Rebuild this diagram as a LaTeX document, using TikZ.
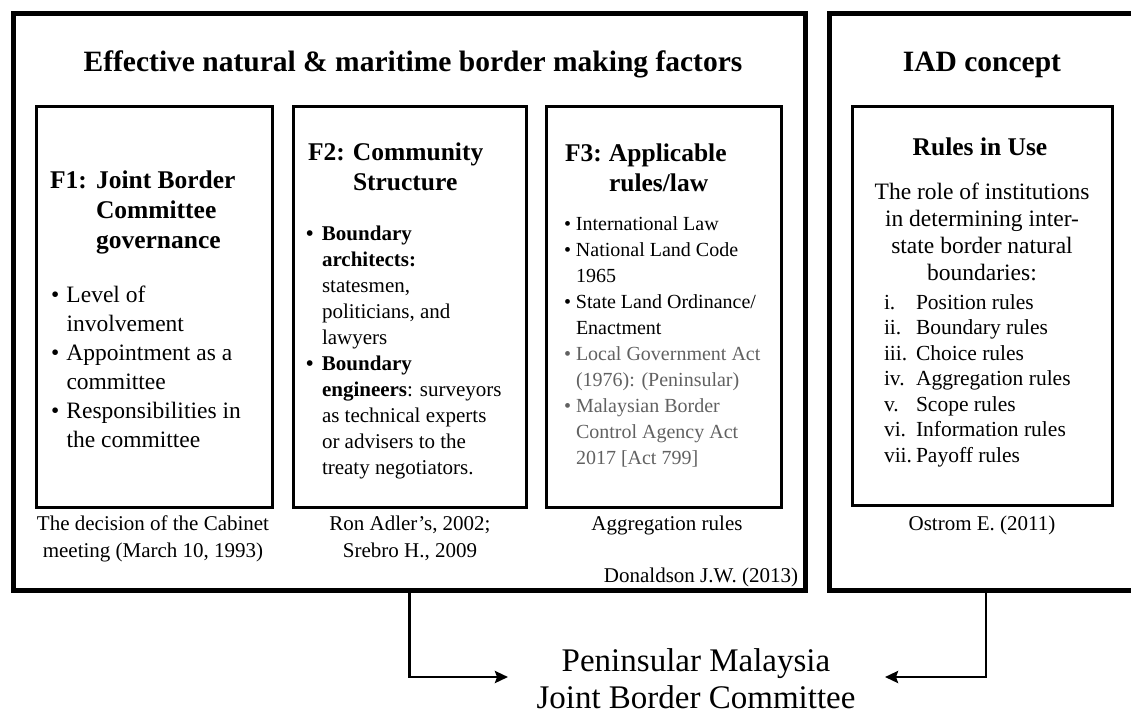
\documentclass[tikz,border=0pt]{standalone}
\usepackage{fontspec}
\setmainfont{Liberation Serif}
\usetikzlibrary{arrows.meta}
\newcommand\fsz[2]{\fontsize{#1}{#2}\selectfont}
\newcommand\ctab[1]{\begin{tabular}[t]{@{}c@{}}#1\end{tabular}}
\newcommand\gr[1]{\textcolor{black!62}{#1}}
\begin{document}
\begin{tikzpicture}[x=1pt,y=-1pt,
  outerbox/.style={draw, line width=5pt, inner sep=0pt, anchor=north west},
  innerbox/.style={draw, line width=3pt, inner sep=0pt, anchor=north west},
  txt/.style={inner sep=0pt, outer sep=0pt},
  conn/.style={line width=2.8pt, -{Stealth[length=13pt,width=12pt,inset=2pt]}}]
\useasboundingbox (0,0) rectangle (1131,713);

% boxes
\node[outerbox, minimum width=792pt, minimum height=577pt] (box1) at (11,11) {};
\node[outerbox, minimum width=313pt, minimum height=577pt] (iad) at (827,11) {};
\node[innerbox, minimum width=236pt, minimum height=401pt] (f1) at (35,105) {};
\node[innerbox, minimum width=233pt, minimum height=401pt] (f2) at (292,105) {};
\node[innerbox, minimum width=235pt, minimum height=401pt] (f3) at (545,105) {};
\node[innerbox, minimum width=260pt, minimum height=399pt] (ru) at (851,105) {};

% titles
\node[txt, anchor=base, font=\fsz{29.5}{35}\bfseries] (t1) at (413,71) {Effective natural \& maritime border making factors};
\node[txt, anchor=base, font=\fsz{29.5}{35}\bfseries] (t2) at (982,71) {IAD concept};

% F1
\node[txt, anchor=base west, font=\fsz{25.5}{30}\bfseries] (f1h) at (50,188)
  {\begin{tabular}[t]{@{}p{46pt}@{}l@{}}F1: & Joint Border\\ & Committee\\ & governance\end{tabular}};
\node[txt, anchor=base west, font=\fsz{23.5}{29}] (f1b) at (51,302)
  {\begin{tabular}[t]{@{}p{15.5pt}@{}l@{}}• & Level of\\ & involvement\\ • & Appointment as a\\ & committee\\ • & Responsibilities in\\ & the committee\end{tabular}};

% F2
\node[txt, anchor=base west, font=\fsz{25.5}{30}\bfseries] (f2h) at (308,160)
  {\begin{tabular}[t]{@{}p{45pt}@{}l@{}}F2: & Community\\ & Structure\end{tabular}};
\node[txt, anchor=base west, font=\fsz{21}{26}] (f2b) at (306,240)
  {\begin{tabular}[t]{@{}p{16pt}@{}l@{}}\textbf{•} & \textbf{Boundary}\\ & \textbf{architects:}\\ & statesmen,\\ & politicians, and\\ & lawyers\\
   \textbf{•} & \textbf{Boundary}\\ & \textbf{engineers}: surveyors\\ & as technical experts\\ & or advisers to the\\ & treaty negotiators.\end{tabular}};

% F3
\node[txt, anchor=base west, font=\fsz{25.5}{30}\bfseries] (f3h) at (565,161)
  {\begin{tabular}[t]{@{}p{44pt}@{}l@{}}F3: & Applicable\\ & rules/law\end{tabular}};
\node[txt, anchor=base west, font=\fsz{20}{26}] (f3b) at (564,230)
  {\begin{tabular}[t]{@{}p{12pt}@{}l@{}}• & International Law\\ • & National Land Code\\ & 1965\\ • & State Land Ordinance/\\ & Enactment\\
   \gr{•} & \gr{Local Government Act}\\ & \gr{(1976): (Peninsular)}\\ \gr{•} & \gr{Malaysian Border}\\ & \gr{Control Agency Act}\\ & \gr{2017 [Act 799]}\end{tabular}};

% IAD inner
\node[txt, anchor=base, font=\fsz{25.5}{30}\bfseries] (ruh) at (980,155) {Rules in Use};
\node[txt, anchor=base, font=\fsz{23.5}{27}] (rud) at (982,199)
  {\ctab{The role of institutions\\ in determining inter-\\ state border natural\\ boundaries:}};
\node[txt, anchor=base west, font=\fsz{21.5}{25.5}] (rul) at (884,309)
  {\begin{tabular}[t]{@{}p{32pt}@{}l@{}}i. & Position rules\\ ii. & Boundary rules\\ iii. & Choice rules\\ iv. & Aggregation rules\\ v. & Scope rules\\ vi. & Information rules\\ vii. & Payoff rules\end{tabular}};

% captions
\node[txt, anchor=base, font=\fsz{21}{27}] (c1) at (153,530) {\ctab{The decision of the Cabinet\\ meeting (March 10, 1993)}};
\node[txt, anchor=base, font=\fsz{21}{27}] (c2) at (410,530) {\ctab{Ron Adler’s, 2002;\\ Srebro H., 2009}};
\node[txt, anchor=base, font=\fsz{21}{27}] (c3) at (667,530) {Aggregation rules};
\node[txt, anchor=base, font=\fsz{21}{27}] (c4) at (982,530) {Ostrom E. (2011)};
\node[txt, anchor=base east, font=\fsz{21}{27}] (c5) at (798,582) {Donaldson J.W. (2013)};

% result
\node[txt, anchor=base, font=\fsz{33}{37}] (pm) at (696,671) {\ctab{Peninsular Malaysia\\ Joint Border Committee}};
\coordinate (inR) at (508,677);
\coordinate (inL) at (885,677);
\draw[conn] (box1.south) |- (inR);
\draw[conn] (iad.south) |- (inL);
\end{tikzpicture}
\end{document}
